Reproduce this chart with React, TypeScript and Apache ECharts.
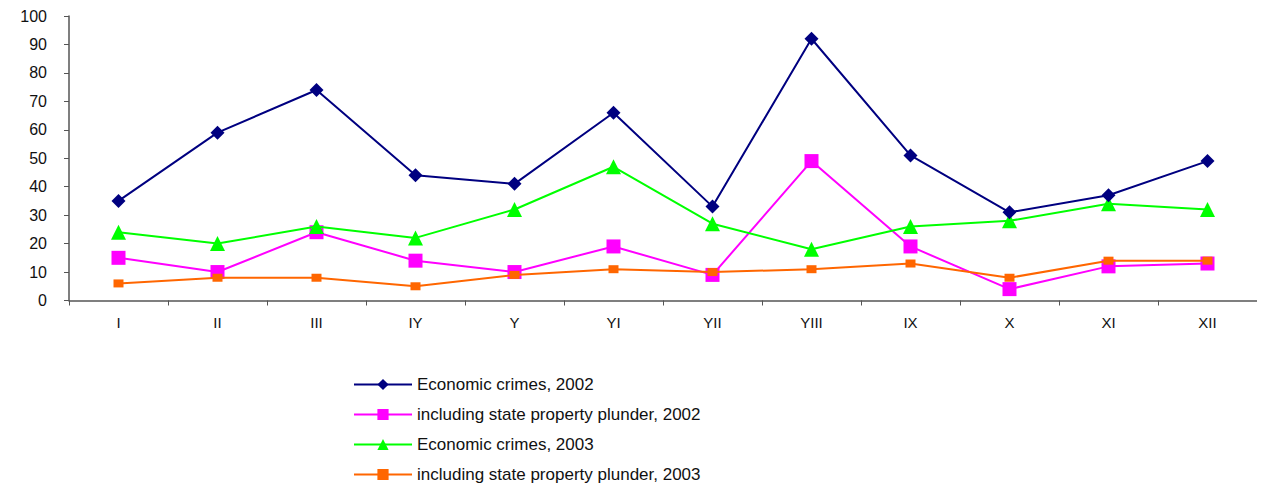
import React, { useEffect, useRef } from "react";
import * as echarts from "echarts";

const months = ["I", "II", "III", "IY", "Y", "YI", "YII", "YIII", "IX", "X", "XI", "XII"];
const econ2002 = [35, 59, 74, 44, 41, 66, 33, 92, 51, 31, 37, 49];
const plunder2002 = [15, 10, 24, 14, 10, 19, 9, 49, 19, 4, 12, 13];
const econ2003 = [24, 20, 26, 22, 32, 47, 27, 18, 26, 28, 34, 32];
const plunder2003 = [6, 8, 8, 5, 9, 11, 10, 11, 13, 8, 14, 14];
const yTicks = [0, 10, 20, 30, 40, 50, 60, 70, 80, 90, 100];

const font = "Liberation Sans, Arial, sans-serif";

export default function App() {
  const ref = useRef<HTMLDivElement>(null);
  useEffect(() => {
    if (!ref.current) return;
    const chart = echarts.init(ref.current, null, { renderer: "svg" });
    chart.setOption({
      animation: false,
      backgroundColor: "#ffffff",
      grid: { left: 61, top: 7.5, right: 8, bottom: 187.5, containLabel: false },
      xAxis: {
        type: "category",
        data: months,
        boundaryGap: true,
        axisLine: { lineStyle: { color: "#555", width: 1.5 } },
        axisTick: { show: true, alignWithLabel: false, length: 5, lineStyle: { color: "#555" } },
        axisLabel: { color: "#111", fontFamily: font, fontSize: 15, margin: 14 },
        splitLine: { show: false },
      },
      yAxis: {
        type: "value",
        min: yTicks[0],
        max: yTicks[yTicks.length - 1],
        interval: 10,
        axisLine: { show: true, lineStyle: { color: "#555", width: 1.5 } },
        axisTick: { show: true, length: 5, lineStyle: { color: "#555" } },
        axisLabel: { color: "#111", fontFamily: font, fontSize: 16, margin: 22 },
        splitLine: { show: false },
      },
      legend: {
        orient: "vertical",
        left: 345,
        top: 368,
        height: 120,
        itemWidth: 58,
        itemHeight: 14,
        itemGap: 13,
        padding: 0,
        textStyle: { color: "#111", fontFamily: font, fontSize: 17 },
        data: [
          "Economic crimes, 2002",
          "including state property plunder, 2002",
          "Economic crimes, 2003",
          "including state property plunder, 2003",
        ],
      },
      series: [
        {
          name: "Economic crimes, 2002",
          type: "line",
          data: econ2002,
          color: "#000080",
          symbol: "diamond",
          symbolSize: 14,
          lineStyle: { width: 2 },
          z: 4,
        },
        {
          name: "including state property plunder, 2002",
          type: "line",
          data: plunder2002,
          color: "#ff00ff",
          symbol: "rect",
          symbolSize: 14,
          lineStyle: { width: 2 },
          z: 2,
        },
        {
          name: "Economic crimes, 2003",
          type: "line",
          data: econ2003,
          color: "#00ff00",
          symbol: "triangle",
          symbolSize: 15,
          lineStyle: { width: 2 },
          z: 3,
        },
        {
          name: "including state property plunder, 2003",
          type: "line",
          data: plunder2003,
          color: "#ff6600",
          symbol: "rect",
          symbolSize: [10, 8],
          lineStyle: { width: 2 },
          z: 3,
        },
      ],
    });
    return () => chart.dispose();
  }, []);
  return <div ref={ref} style={{ width: 1257, height: 480 }} />;
}
